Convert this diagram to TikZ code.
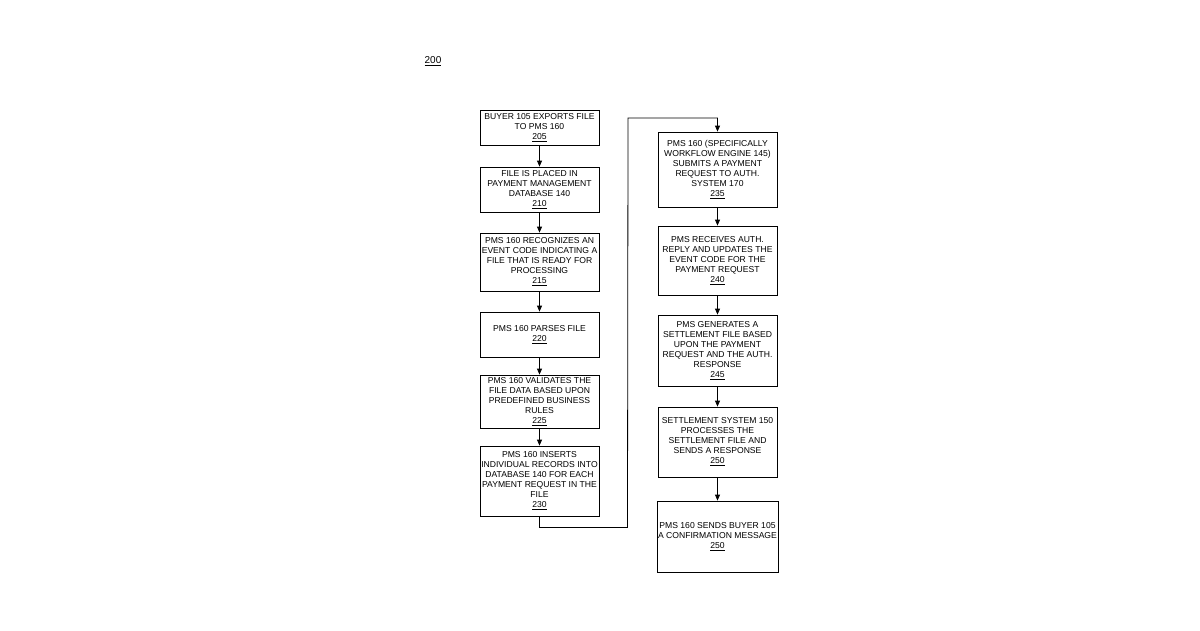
\documentclass[tikz,border=0pt]{standalone}
\usepackage{fontspec}
\setmainfont{Liberation Sans}
\usetikzlibrary{arrows.meta}
\begin{document}
\begin{tikzpicture}[x=1pt,y=-1pt,
  box/.style={draw,line width=0.8pt,minimum width=119pt,align=center,
    font=\fontsize{8.6}{10}\selectfont,inner sep=1pt},
  arr/.style={-{Triangle[length=6pt,width=5pt]},line width=0.8pt}]
\useasboundingbox (0,0) rectangle (1200,630);
\node[font=\fontsize{10}{12}\selectfont] (lbl) at (433,61) {\underline{200}};
\newcommand{\bx}[5]{\node[box,minimum height=#4pt] (#1) at (#2,#3) {#5};}
\bx{a}{539.5}{127.5}{35}{BUYER 105 EXPORTS FILE\\TO PMS 160\\\underline{205}}
\bx{b}{539.5}{189.5}{45}{FILE IS PLACED IN\\PAYMENT MANAGEMENT\\DATABASE 140\\\underline{210}}
\bx{c}{539.5}{262}{58}{PMS 160 RECOGNIZES AN\\EVENT CODE INDICATING A\\FILE THAT IS READY FOR\\PROCESSING\\\underline{215}}
\bx{d}{539.5}{334.5}{45}{PMS 160 PARSES FILE\\\underline{220}}
\bx{e}{539.5}{401.5}{53}{PMS 160 VALIDATES THE\\FILE DATA BASED UPON\\PREDEFINED BUSINESS\\RULES\\\underline{225}}
\bx{f}{539.5}{481}{70}{PMS 160 INSERTS\\INDIVIDUAL RECORDS INTO\\DATABASE 140 FOR EACH\\PAYMENT REQUEST IN THE\\FILE\\\underline{230}}
\bx{g}{717.5}{169.5}{75}{PMS 160 (SPECIFICALLY\\WORKFLOW ENGINE 145)\\SUBMITS A PAYMENT\\REQUEST TO AUTH.\\SYSTEM 170\\\underline{235}}
\bx{h}{717.5}{260.5}{69}{PMS RECEIVES AUTH.\\REPLY AND UPDATES THE\\EVENT CODE FOR THE\\PAYMENT REQUEST\\\underline{240}}
\bx{i}{717.5}{350.5}{71}{PMS GENERATES A\\SETTLEMENT FILE BASED\\UPON THE PAYMENT\\REQUEST AND THE AUTH.\\RESPONSE\\\underline{245}}
\bx{j}{717.5}{442}{70}{SETTLEMENT SYSTEM 150\\PROCESSES THE\\SETTLEMENT FILE AND\\SENDS A RESPONSE\\\underline{250}}
\bx{k}{717.5}{536.5}{71}{PMS 160 SENDS BUYER 105\\A CONFIRMATION MESSAGE\\\underline{250}}
\draw[arr] (a) -- (b);
\draw[arr] (b) -- (c);
\draw[arr] (c) -- (d);
\draw[arr] (d) -- (e);
\draw[arr] (e) -- (f);
\draw[arr] (f.south) -- ++(0,11) -- ++(88,0) -- (628,118) -| (g.north);
\draw[arr] (g) -- (h);
\draw[arr] (h) -- (i);
\draw[arr] (i) -- (j);
\draw[arr] (j) -- (k);
\end{tikzpicture}
\end{document}
